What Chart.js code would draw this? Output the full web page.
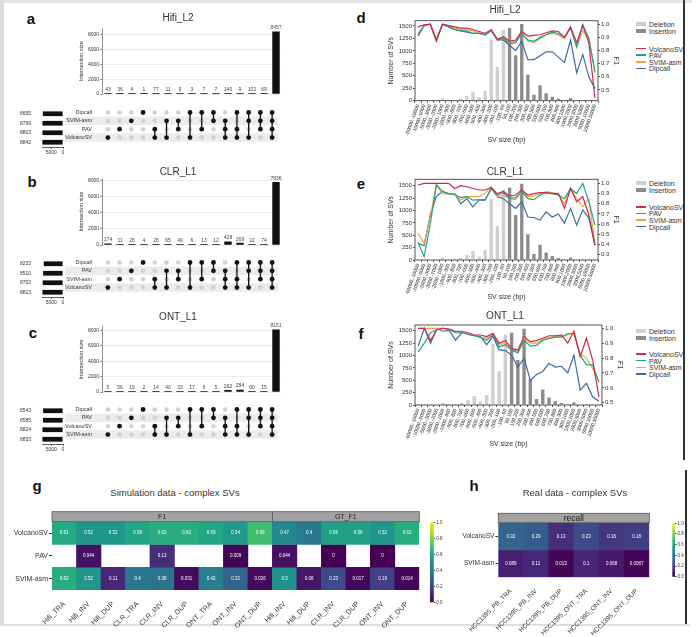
<!DOCTYPE html>
<html>
<head>
<meta charset="utf-8">
<script src="https://cdn.jsdelivr.net/npm/chart.js@4.4.0/dist/chart.umd.min.js"></script>
<style>
body { margin: 0; background: #fff; }
#fig { position: relative; width: 700px; height: 637px; overflow: hidden; font-family: 'Liberation Sans', Arial, sans-serif; color: #333; }
#fig canvas { position: absolute; }
.t { position: absolute; white-space: nowrap; transform: translate(-50%, -50%); line-height: 1; }
.l { position: absolute; white-space: nowrap; transform: translateY(-50%); line-height: 1; }
.b { position: absolute; }
</style>
</head>
<body>
<div id="fig"></div>
<script>
// ---- UpSet data (rows top to bottom) ----
const setsA = ['Dipcall', 'SVIM-asm', 'PAV', 'VolcanoSV'];
const sizesA = [8655, 8799, 8803, 8842];
const countsA = [43, 36, 4, 1, 77, 11, 9, 3, 7, 7, 140, 9, 102, 69, 8457];
const setsB = ['Dipcall', 'PAV', 'SVIM-asm', 'VolcanoSV'];
const sizesB = [8233, 8510, 8703, 8823];
const countsB = [174, 11, 26, 4, 26, 65, 49, 6, 13, 12, 428, 269, 22, 74, 7836];
const setsC = ['Dipcall', 'PAV', 'VolcanoSV', 'SVIM-asm'];
const sizesC = [8543, 8585, 8824, 8833];
const countsC = [5, 56, 19, 2, 14, 40, 33, 17, 9, 5, 262, 284, 60, 15, 8151];
// which rows take part in each intersection column
const combos = [[3], [2], [1], [0], [2, 3], [1, 3], [1, 2], [0, 3], [0, 2], [0, 1], [1, 2, 3], [0, 2, 3], [0, 1, 3], [0, 1, 2], [0, 1, 2, 3]];
const upsetTicks = [0, 2000, 4000, 6000, 8000];

// ---- SV size distribution ----
const svBins = ['-50000,-10000', '-10000,-5000', '-5000,-3000', '-3000,-2000', '-2000,-1000', '-1000,-900', '-900,-800', '-800,-700',
  '-700,-600', '-600,-500', '-500,-400', '-400,-300', '-300,-200', '-200,-100', '-100,-50',
  '50,100', '100,200', '200,300', '300,400', '400,500', '500,600', '600,700', '700,800', '800,900', '900,1000',
  '1000,2000', '2000,3000', '3000,5000', '5000,10000', '10000,50000'];
const delCounts = [20, 5, 5, 5, 45, 20, 20, 40, 100, 180, 70, 200, 1230, 680, 1420,
  null, null, null, null, null, null, null, null, null, null, null, null, null, null, null];
const insCounts = [null, null, null, null, null, null, null, null, null, null, null, null, null, null, null,
  1460, 910, 1540, 520, 120, 310, 150, 80, 40, 15, 50, 10, 5, 5, 5];
const tools = ['VolcanoSV', 'PAV', 'SVIM-asm', 'Dipcall'];

const f1Hifi = [
  [0.98, 0.995, 1.0, 0.87, 1.0, 0.99, 0.98, 0.97, 0.97, 0.96, 0.945, 0.93, 0.96, 0.885, 0.905, 0.87, 0.88, 0.945, 0.91, 0.915, 0.92, 0.935, 0.95, 0.945, 0.90, 0.98, 0.86, 0.99, 0.855, 0.44],
  [0.92, 0.99, 1.0, 0.88, 1.0, 0.98, 0.96, 0.95, 0.95, 0.93, 0.93, 0.92, 0.955, 0.88, 0.89, 0.85, 0.86, 0.93, 0.88, 0.87, 0.90, 0.92, 0.94, 0.93, 0.90, 0.97, 0.83, 1.0, 0.89, 0.64],
  [0.93, 0.99, 1.0, 0.89, 1.0, 0.99, 0.97, 0.96, 0.96, 0.95, 0.93, 0.92, 0.95, 0.88, 0.90, 0.86, 0.87, 0.93, 0.87, 0.86, 0.89, 0.92, 0.93, 0.92, 0.89, 0.98, 0.82, 0.95, 0.90, 0.63],
  [0.91, 0.99, 1.0, 0.88, 1.0, 0.98, 0.96, 0.95, 0.94, 0.93, 0.93, 0.92, 0.95, 0.88, 0.88, 0.84, 0.80, 0.87, 0.73, 0.73, 0.76, 0.79, 0.79, 0.75, 0.71, 0.88, 0.63, 0.77, 0.60, 0.51]
];
const f1Clr = [
  [0.984, 1.0, 1.0, 1.0, 1.0, 1.0, 0.95, 0.977, 0.967, 0.95, 0.935, 0.935, 0.96, 0.90, 0.92, 0.876, 0.886, 0.935, 0.886, 0.90, 0.91, 0.91, 0.90, 0.90, 0.755, 0.95, 0.82, 0.87, 0.69, 0.395],
  [0.42, 0.28, 0.60, 0.985, 0.92, 0.90, 0.89, 0.86, 0.87, 0.835, 0.84, 0.84, 0.95, 0.885, 0.91, 0.85, 0.86, 0.92, 0.85, 0.84, 0.885, 0.91, 0.90, 0.885, 0.85, 0.95, 0.90, 1.0, 0.82, 0.59],
  [0.51, 0.41, 0.67, 0.99, 0.90, 0.895, 0.90, 0.835, 0.87, 0.87, 0.87, 0.90, 0.965, 0.87, 0.885, 0.85, 0.84, 0.92, 0.87, 0.875, 0.90, 0.92, 0.91, 0.90, 0.80, 0.95, 0.85, 0.77, 0.85, 0.41],
  [0.41, 0.39, 0.69, 0.87, 0.92, 0.90, 0.90, 0.80, 0.85, 0.77, 0.835, 0.835, 0.95, 0.87, 0.85, 0.80, 0.755, 0.82, 0.67, 0.665, 0.64, 0.72, 0.67, 0.70, 0.61, 0.755, 0.59, 0.74, 0.66, 0.395]
];
const f1Ont = [
  [1.0, 1.0, 0.92, 0.99, 1.0, 0.995, 0.98, 0.98, 0.97, 0.955, 0.955, 0.944, 0.966, 0.90, 0.917, 0.865, 0.854, 0.944, 0.91, 0.917, 0.933, 0.95, 0.95, 0.955, 0.90, 0.98, 0.81, 0.933, 0.787, 0.54],
  [0.84, 0.90, 0.97, 0.99, 1.0, 0.99, 0.97, 0.97, 0.96, 0.95, 0.94, 0.92, 0.955, 0.875, 0.89, 0.855, 0.835, 0.92, 0.88, 0.885, 0.92, 0.93, 0.94, 0.94, 0.965, 0.965, 0.82, 0.755, 0.755, 0.64],
  [1.0, 1.0, 1.0, 1.0, 1.0, 0.99, 0.98, 0.975, 0.96, 0.95, 0.935, 0.935, 0.96, 0.89, 0.90, 0.865, 0.845, 0.935, 0.90, 0.90, 0.925, 0.94, 0.945, 0.945, 0.955, 0.965, 0.83, 0.80, 0.73, 0.64],
  [0.88, 1.0, 0.90, 1.0, 0.98, 0.985, 0.92, 0.97, 0.96, 0.95, 0.945, 0.89, 0.945, 0.855, 0.85, 0.82, 0.74, 0.80, 0.65, 0.69, 0.71, 0.765, 0.74, 0.745, 0.70, 0.82, 0.585, 0.63, 0.54, 0.51]
];

// ---- complex SV heatmaps ----
const simRows = ['VolcanoSV', 'PAV', 'SVIM-asm'];
const simCols = ['Hifi_TRA', 'Hifi_INV', 'Hifi_DUP', 'CLR_TRA', 'CLR_INV', 'CLR_DUP', 'ONT_TRA', 'ONT_INV', 'ONT_DUP',
  'Hifi_INV', 'Hifi_DUP', 'CLR_INV', 'CLR_DUP', 'ONT_INV', 'ONT_DUP'];
const simVals = [
  [0.61, 0.52, 0.52, 0.59, 0.62, 0.62, 0.59, 0.54, 0.69, 0.47, 0.4, 0.56, 0.56, 0.52, 0.62],
  [null, 0.044, null, null, 0.13, null, null, 0.009, null, 0.044, null, 0, null, 0, null],
  [0.62, 0.52, 0.11, 0.4, 0.38, 0.031, 0.42, 0.32, 0.026, 0.5, 0.06, 0.23, 0.017, 0.19, 0.014]
];
const simGroups = [{ label: 'F1', from: 0, to: 8 }, { label: 'GT_F1', from: 9, to: 14 }];
const realRows = ['VolcanoSV', 'SVIM-asm'];
const realCols = ['HCC1395_PB_TRA', 'HCC1395_PB_INV', 'HCC1395_PB_DUP', 'HCC1395_ONT_TRA', 'HCC1395_ONT_INV', 'HCC1395_ONT_DUP'];
const realVals = [
  [0.32, 0.29, 0.13, 0.23, 0.16, 0.18],
  [0.089, 0.11, 0.013, 0.1, 0.068, 0.0087]
];
const realGroups = [{ label: 'recall', from: 0, to: 5 }];

// ---- styling ----
const toolColors = ['#d3274f', '#1fa58c', '#eea83a', '#3f6aa6'];
const delColor = '#cfcfcf', insColor = '#8c8c8c';
const viridisStops = ['#440154', '#482475', '#414487', '#355f8d', '#2a788e', '#21918c', '#22a884', '#44bf70', '#7ad151', '#bddf26', '#fde725'];
const FONT = "'Liberation Sans', Arial, sans-serif";

Chart.defaults.font.family = FONT;
Chart.defaults.color = '#333';
Chart.defaults.animation = false;
Chart.defaults.responsive = false;
Chart.defaults.maintainAspectRatio = false;
Chart.defaults.devicePixelRatio = 1;
Chart.defaults.events = [];
Chart.defaults.plugins.legend.display = false;
Chart.defaults.plugins.tooltip.enabled = false;

const fig = document.getElementById('fig');
function canvasAt(x, y, w, h) {
  const c = document.createElement('canvas');
  c.width = w; c.height = h;
  c.style.left = x + 'px'; c.style.top = y + 'px';
  c.style.width = w + 'px'; c.style.height = h + 'px';
  fig.appendChild(c);
  return c;
}
function textAt(x, y, str, size, cls, extra) {
  const d = document.createElement('div');
  d.className = cls || 't';
  d.style.left = x + 'px'; d.style.top = y + 'px'; d.style.fontSize = size + 'px';
  if (extra) d.style.cssText += extra;
  d.textContent = str;
  fig.appendChild(d);
}
function boxAt(x, y, w, h, col) {
  const d = document.createElement('div');
  d.className = 'b';
  d.style.cssText += `left:${x}px;top:${y}px;width:${w}px;height:${h}px;background:${col}`;
  fig.appendChild(d);
}
function hex(c) { return [1, 3, 5].map(i => parseInt(c.substr(i, 2), 16)); }
function viridis(v) {
  const t = Math.max(0, Math.min(1, v)) * 10;
  const i = Math.min(9, Math.floor(t)), f = t - i;
  const a = hex(viridisStops[i]), b = hex(viridisStops[i + 1]);
  return 'rgb(' + a.map((x, k) => Math.round(x + (b[k] - x) * f)).join(',') + ')';
}

// ---- plugins ----
const countLabels = {
  id: 'countLabels',
  afterDatasetsDraw(chart) {
    const ctx = chart.ctx, vals = chart.data.datasets[0].data;
    ctx.save();
    ctx.font = '5px ' + FONT; ctx.fillStyle = '#444';
    ctx.textAlign = 'center'; ctx.textBaseline = 'bottom';
    chart.getDatasetMeta(0).data.forEach((el, i) => ctx.fillText(vals[i], el.x, el.y - 1.2));
    ctx.restore();
  }
};
const rowShade = {
  id: 'rowShade',
  beforeDraw(chart) {
    const { ctx, chartArea } = chart, y = chart.scales.y;
    const h = Math.abs(y.getPixelForValue(1) - y.getPixelForValue(0));
    ctx.save();
    ctx.fillStyle = '#ececec';
    [1, 3].forEach(r => ctx.fillRect(1, y.getPixelForValue(r) - h / 2, chartArea.right - 1, h));
    ctx.restore();
  }
};
const frame = {
  id: 'frame',
  afterDatasetsDraw(chart) {
    const { ctx, chartArea: a } = chart;
    ctx.save();
    ctx.strokeStyle = '#444'; ctx.lineWidth = 0.9;
    ctx.strokeRect(a.left, a.top, a.right - a.left, a.bottom - a.top);
    ctx.restore();
  }
};
const headers = {
  id: 'headers',
  afterDraw(chart, args, opts) {
    const { ctx, chartArea: a } = chart;
    const w = (a.right - a.left) / chart.data.labels.length;
    ctx.save();
    opts.groups.forEach(g => {
      const l = a.left + g.from * w, r = a.left + (g.to + 1) * w;
      ctx.fillStyle = '#a2a2a2'; ctx.fillRect(l, a.top - opts.h, r - l, opts.h);
      ctx.strokeStyle = '#555'; ctx.lineWidth = 0.8; ctx.strokeRect(l, a.top - opts.h, r - l, opts.h);
      ctx.fillStyle = '#222'; ctx.font = opts.font + 'px ' + FONT;
      ctx.textAlign = 'center'; ctx.textBaseline = 'middle';
      ctx.fillText(g.label, (l + r) / 2, a.top - opts.h / 2 + 0.5);
    });
    ctx.restore();
  }
};
const cellText = {
  id: 'cellText',
  afterDatasetsDraw(chart, args, opts) {
    const ctx = chart.ctx;
    ctx.save();
    ctx.font = opts.size + 'px ' + FONT; ctx.fillStyle = '#fff';
    ctx.textAlign = 'center'; ctx.textBaseline = 'middle';
    chart.data.datasets.forEach((ds, d) => {
      chart.getDatasetMeta(d).data.forEach((el, i) => {
        const v = ds.values[i];
        if (v === null) return;
        ctx.fillText(String(v), el.x, (el.y + el.base) / 2);
      });
    });
    ctx.restore();
  }
};
const cbar = {
  id: 'cbar',
  beforeDatasetsDraw(chart) {
    const { ctx, chartArea: a } = chart;
    const g = ctx.createLinearGradient(0, a.bottom, 0, a.top);
    viridisStops.forEach((c, i) => g.addColorStop(i / 10, c));
    ctx.save(); ctx.fillStyle = g;
    ctx.fillRect(a.left, a.top, a.right - a.left, a.bottom - a.top);
    ctx.restore();
  }
};

// ---- UpSet panel ----
function drawUpset(sets, sizes, counts, L) {
  const colX0 = 102, colX1 = 282;
  const bTop = Math.round(L.barTop - 9), bBot = Math.round(L.bar0) + 1;
  new Chart(canvasAt(76, bTop, colX1 - 76, bBot - bTop), {
    type: 'bar',
    data: { labels: counts.map((_, i) => i), datasets: [{ data: counts, backgroundColor: '#111', barPercentage: 0.62, categoryPercentage: 1, minBarLength: 1 }] },
    options: {
      layout: { padding: { top: L.barTop - bTop, bottom: bBot - L.bar0, left: 0, right: 0 } },
      scales: {
        x: { display: false },
        y: {
          min: 0, max: L.max,
          afterBuildTicks: s => { s.ticks = upsetTicks.map(v => ({ value: v })); },
          ticks: { font: { size: 5 }, padding: 1, callback: v => v },
          grid: { color: '#e2e2e2', tickColor: '#666', tickLength: 2, lineWidth: 0.7 },
          border: { color: '#777', width: 0.8 },
          title: { display: true, text: 'Intersection size', font: { size: 5.5 }, padding: { top: 2, bottom: 0 } },
          afterFit: s => { s.width = colX0 - 76; }
        }
      }
    },
    plugins: [countLabels]
  });

  const mTop = Math.round(L.row0 - L.rowH / 2), mH = Math.round(L.rowH * 4);
  const gray = [], black = [], links = [];
  combos.forEach((rows, c) => {
    for (let r = 0; r < 4; r++) (rows.includes(r) ? black : gray).push({ x: c, y: r });
    if (rows.length > 1) links.push({ x: c, y: Math.min(...rows) }, { x: c, y: Math.max(...rows) }, { x: c, y: null });
  });
  new Chart(canvasAt(64, mTop, colX1 - 64, mH), {
    type: 'scatter',
    data: {
      datasets: [
        { data: black, backgroundColor: '#111', pointRadius: 2.4, borderWidth: 0 },
        { type: 'line', data: links, borderColor: '#111', borderWidth: 1.3, pointRadius: 0, spanGaps: false },
        { data: gray, backgroundColor: '#d2d2d2', pointRadius: 2.3, borderWidth: 0 }
      ]
    },
    options: {
      layout: { padding: 0 },
      scales: {
        x: { type: 'linear', min: -0.5, max: 14.5, display: false },
        y: {
          type: 'linear', min: -0.5, max: 3.5, reverse: true,
          afterBuildTicks: s => { s.ticks = [0, 1, 2, 3].map(v => ({ value: v })); },
          ticks: { callback: v => sets[v], font: { size: 5.5 }, padding: 2 },
          grid: { display: false }, border: { display: false },
          afterFit: s => { s.width = colX0 - 64; }
        }
      }
    },
    plugins: [rowShade]
  });

  const sBot = mTop + mH + 11;
  new Chart(canvasAt(20, mTop, 44, sBot - mTop), {
    type: 'bar',
    data: { labels: sets, datasets: [{ data: sizes, backgroundColor: '#111', barPercentage: 0.5, categoryPercentage: 1 }] },
    options: {
      indexAxis: 'y',
      layout: { padding: { left: 0, right: 1, top: 0, bottom: 0 } },
      scales: {
        x: {
          reverse: true, min: 0, max: 9000, z: 1,
          afterBuildTicks: s => { s.ticks = [{ value: 5000 }, { value: 0 }]; },
          ticks: { font: { size: 5 }, padding: 1, maxRotation: 0, callback: v => v },
          grid: { color: '#fff', tickColor: '#444', tickLength: 2, lineWidth: 0.8 },
          border: { color: '#333', width: 0.8 },
          afterFit: s => { s.height = sBot - mTop - mH; s.paddingLeft = 0; s.paddingRight = 0; }
        },
        y: {
          ticks: { callback: (v, i) => sizes[i], font: { size: 5 }, padding: 3 },
          grid: { display: false }, border: { display: false },
          afterFit: s => { s.width = 22; }
        }
      }
    }
  });
}

// ---- SV size / F1 panel ----
function drawCombo(f1, L) {
  const cl = 386, ct = Math.round(L.top - 9), cr = L.right + 23, cb = Math.round(L.titleY + 5.2);
  new Chart(canvasAt(cl, ct, cr - cl, cb - ct), {
    type: 'bar',
    data: {
      labels: svBins,
      datasets: [
        ...tools.map((t, k) => ({ type: 'line', label: t, data: f1[k], yAxisID: 'f1', borderColor: toolColors[k], borderWidth: 1.2, pointRadius: 0, tension: 0, order: 1 })),
        { label: 'Deletion', data: delCounts, yAxisID: 'n', backgroundColor: delColor, grouped: false, barPercentage: 0.55, categoryPercentage: 1, order: 2 },
        { label: 'Insertion', data: insCounts, yAxisID: 'n', backgroundColor: insColor, grouped: false, barPercentage: 0.55, categoryPercentage: 1, order: 2 }
      ]
    },
    options: {
      layout: { padding: { top: L.top - ct, left: 0, right: 0, bottom: 0 } },
      scales: {
        x: {
          ticks: { font: { size: 5 }, minRotation: 70, maxRotation: 70, autoSkip: false, padding: 1 },
          grid: { display: true, drawOnChartArea: false, tickLength: 2, tickColor: '#555' },
          border: { display: false },
          title: { display: true, text: 'SV size (bp)', font: { size: 7 }, padding: { top: 0, bottom: 1 } },
          afterFit: s => { s.height = cb - L.bottom; s.paddingLeft = 0; s.paddingRight = 0; }
        },
        n: {
          type: 'linear', position: 'left', min: 0, max: L.nMax,
          ticks: { stepSize: 250, includeBounds: false, font: { size: 6 }, padding: 1, callback: v => v },
          grid: { drawOnChartArea: false, tickLength: 2, tickColor: '#555' },
          border: { display: false },
          title: { display: true, text: 'Number of SVs', font: { size: 7 }, padding: { top: 1, bottom: 0 } },
          afterFit: s => { s.width = 415 - cl; }
        },
        f1: {
          type: 'linear', position: 'right', min: L.fMin, max: L.fMax,
          ticks: { stepSize: 0.1, includeBounds: false, font: { size: 6 }, padding: 1, callback: v => v.toFixed(1) },
          grid: { drawOnChartArea: false, tickLength: 2, tickColor: '#555' },
          border: { display: false },
          title: { display: true, text: 'F1', font: { size: 7 }, padding: { top: 1, bottom: 0 } },
          afterFit: s => { s.width = cr - L.right; }
        }
      }
    },
    plugins: [frame]
  });
  // legend
  [['Deletion', delColor], ['Insertion', insColor]].forEach(([name, col], i) => {
    boxAt(636, L.legTop + 7 * i - 2, 10, 4, col);
    textAt(649, L.legTop + 7 * i, name, 7, 'l');
  });
  tools.forEach((t, k) => {
    boxAt(636, L.legLines + 6.6 * k - 0.7, 10, 1.5, toolColors[k]);
    textAt(649, L.legLines + 6.6 * k, t, 7, 'l');
  });
}

// ---- heatmap panel ----
function drawHeatmap(rows, cols, vals, groups, L) {
  new Chart(canvasAt(L.cl, L.ct, L.cr - L.cl, L.cb - L.ct), {
    type: 'bar',
    data: {
      labels: cols,
      datasets: rows.map((r, k) => ({
        label: r, values: vals[k],
        data: vals[k].map(v => v === null ? null : [k, k + 1]),
        backgroundColor: c => viridis(vals[k][c.dataIndex] || 0),
        grouped: false, barPercentage: 1, categoryPercentage: 1, borderWidth: 0
      }))
    },
    options: {
      layout: { padding: { top: L.t - L.ct, right: L.cr - L.r, left: 0, bottom: 0 } },
      scales: {
        x: {
          ticks: { font: { size: L.xFont }, minRotation: 45, maxRotation: 45, autoSkip: false, padding: L.xPad },
          grid: { display: false }, border: { display: false },
          afterFit: s => { s.height = L.cb - L.b; s.paddingLeft = 0; s.paddingRight = 0; }
        },
        y: {
          type: 'linear', min: 0, max: rows.length, reverse: true,
          afterBuildTicks: s => { s.ticks = rows.map((_, i) => ({ value: i + 0.5 })); },
          ticks: { callback: (v, i) => rows[i], font: { size: L.yFont }, padding: 1 },
          grid: { drawOnChartArea: false, tickLength: 3, tickColor: '#333' },
          border: { display: false },
          afterFit: s => { s.width = L.l - L.cl; }
        }
      },
      plugins: { headers: { groups: groups, h: L.hh, font: L.hFont }, cellText: { size: 4.5 } }
    },
    plugins: [headers, cellText]
  });
  // colour bar
  const C = L.bar;
  new Chart(canvasAt(C.cl, C.ct, C.cr - C.cl, C.cb - C.ct), {
    type: 'bar',
    data: { labels: [''], datasets: [] },
    options: {
      layout: { padding: { left: C.l - C.cl, top: C.t - C.ct, bottom: C.cb - C.b, right: 0 } },
      scales: {
        x: { display: false },
        y: {
          type: 'linear', position: 'right', min: 0, max: 1,
          ticks: { stepSize: 0.2, font: { size: 4.5 }, padding: 1, callback: v => v.toFixed(1) },
          grid: { drawOnChartArea: false, tickLength: 1.5, tickColor: '#444' },
          border: { display: false },
          afterFit: s => { s.width = C.cr - C.r; }
        }
      }
    },
    plugins: [cbar]
  });
}

// ---- figure frame ----
boxAt(0, 0, 692, 3, '#e6e6e6');
boxAt(0, 0, 4, 625, '#dcdcdc');
boxAt(683, 0, 1.5, 460, '#333');
boxAt(685, 470, 1.5, 155, '#333');
boxAt(0, 624, 690, 2, '#dedede');

// ---- panels a-c ----
drawUpset(setsA, sizesA, countsA, { barTop: 28.3, bar0: 97.3, max: 8880, row0: 108.3, rowH: 10.9 });
drawUpset(setsB, sizesB, countsB, { barTop: 178.3, bar0: 248.3, max: 8284, row0: 258.3, rowH: 10.9 });
drawUpset(setsC, sizesC, countsC, { barTop: 326.7, bar0: 395, max: 8500, row0: 406, rowH: 11.1 });
textAt(178, 18, 'Hifi_L2', 10);
textAt(178, 171.7, 'CLR_L1', 10);
textAt(178, 317, 'ONT_L1', 10);

// ---- panels d-f ----
drawCombo(f1Hifi, { top: 20.7, bottom: 100.7, right: 598, nMax: 1606, fMin: 0.418, fMax: 1.027, titleY: 140, legTop: 24.3, legLines: 48.5 });
drawCombo(f1Clr, { top: 179.3, bottom: 260, right: 598, nMax: 1629, fMin: 0.248, fMax: 1.04, titleY: 296.7, legTop: 182.7, legLines: 206.7 });
drawCombo(f1Ont, { top: 325, bottom: 405, right: 602, nMax: 1615, fMin: 0.485, fMax: 1.022, titleY: 443.3, legTop: 330.7, legLines: 354 });
textAt(505, 9.5, 'Hifi_L2', 10);
textAt(505, 171.7, 'CLR_L1', 10);
textAt(505, 316, 'ONT_L1', 10);

// ---- panels g-h ----
drawHeatmap(simRows, simCols, simVals, simGroups, {
  cl: 0, ct: 505, cr: 420, cb: 636, l: 52, t: 521.7, r: 419.3, b: 590, hh: 10, hFont: 7, xFont: 7.2, xPad: 2, yFont: 7,
  bar: { cl: 426, ct: 515, cr: 448, cb: 610, l: 430, t: 522.3, r: 433.8, b: 602.3 }
});
drawHeatmap(realRows, realCols, realVals, realGroups, {
  cl: 440, ct: 505, cr: 650, cb: 636, l: 498.3, t: 522.7, r: 649.3, b: 577.3, hh: 9.4, hFont: 8.5, xFont: 6.5, xPad: 2, yFont: 6.5,
  bar: { cl: 668, ct: 516, cr: 690, cb: 584, l: 672.3, t: 523.3, r: 675, b: 576.7 }
});
textAt(175, 492.7, 'Simulation data - complex SVs', 9.5);
textAt(575, 493, 'Real data - complex SVs', 9.5);

// ---- panel letters ----
[['a', 31, 18], ['b', 32, 180.7], ['c', 33, 331.7], ['d', 361, 16.7], ['e', 361, 183], ['f', 361, 333], ['g', 37, 485], ['h', 474, 485]]
  .forEach(([s, x, y]) => textAt(x, y, s, 15, 't', 'font-weight:bold;color:#111'));
</script>
</body>
</html>
